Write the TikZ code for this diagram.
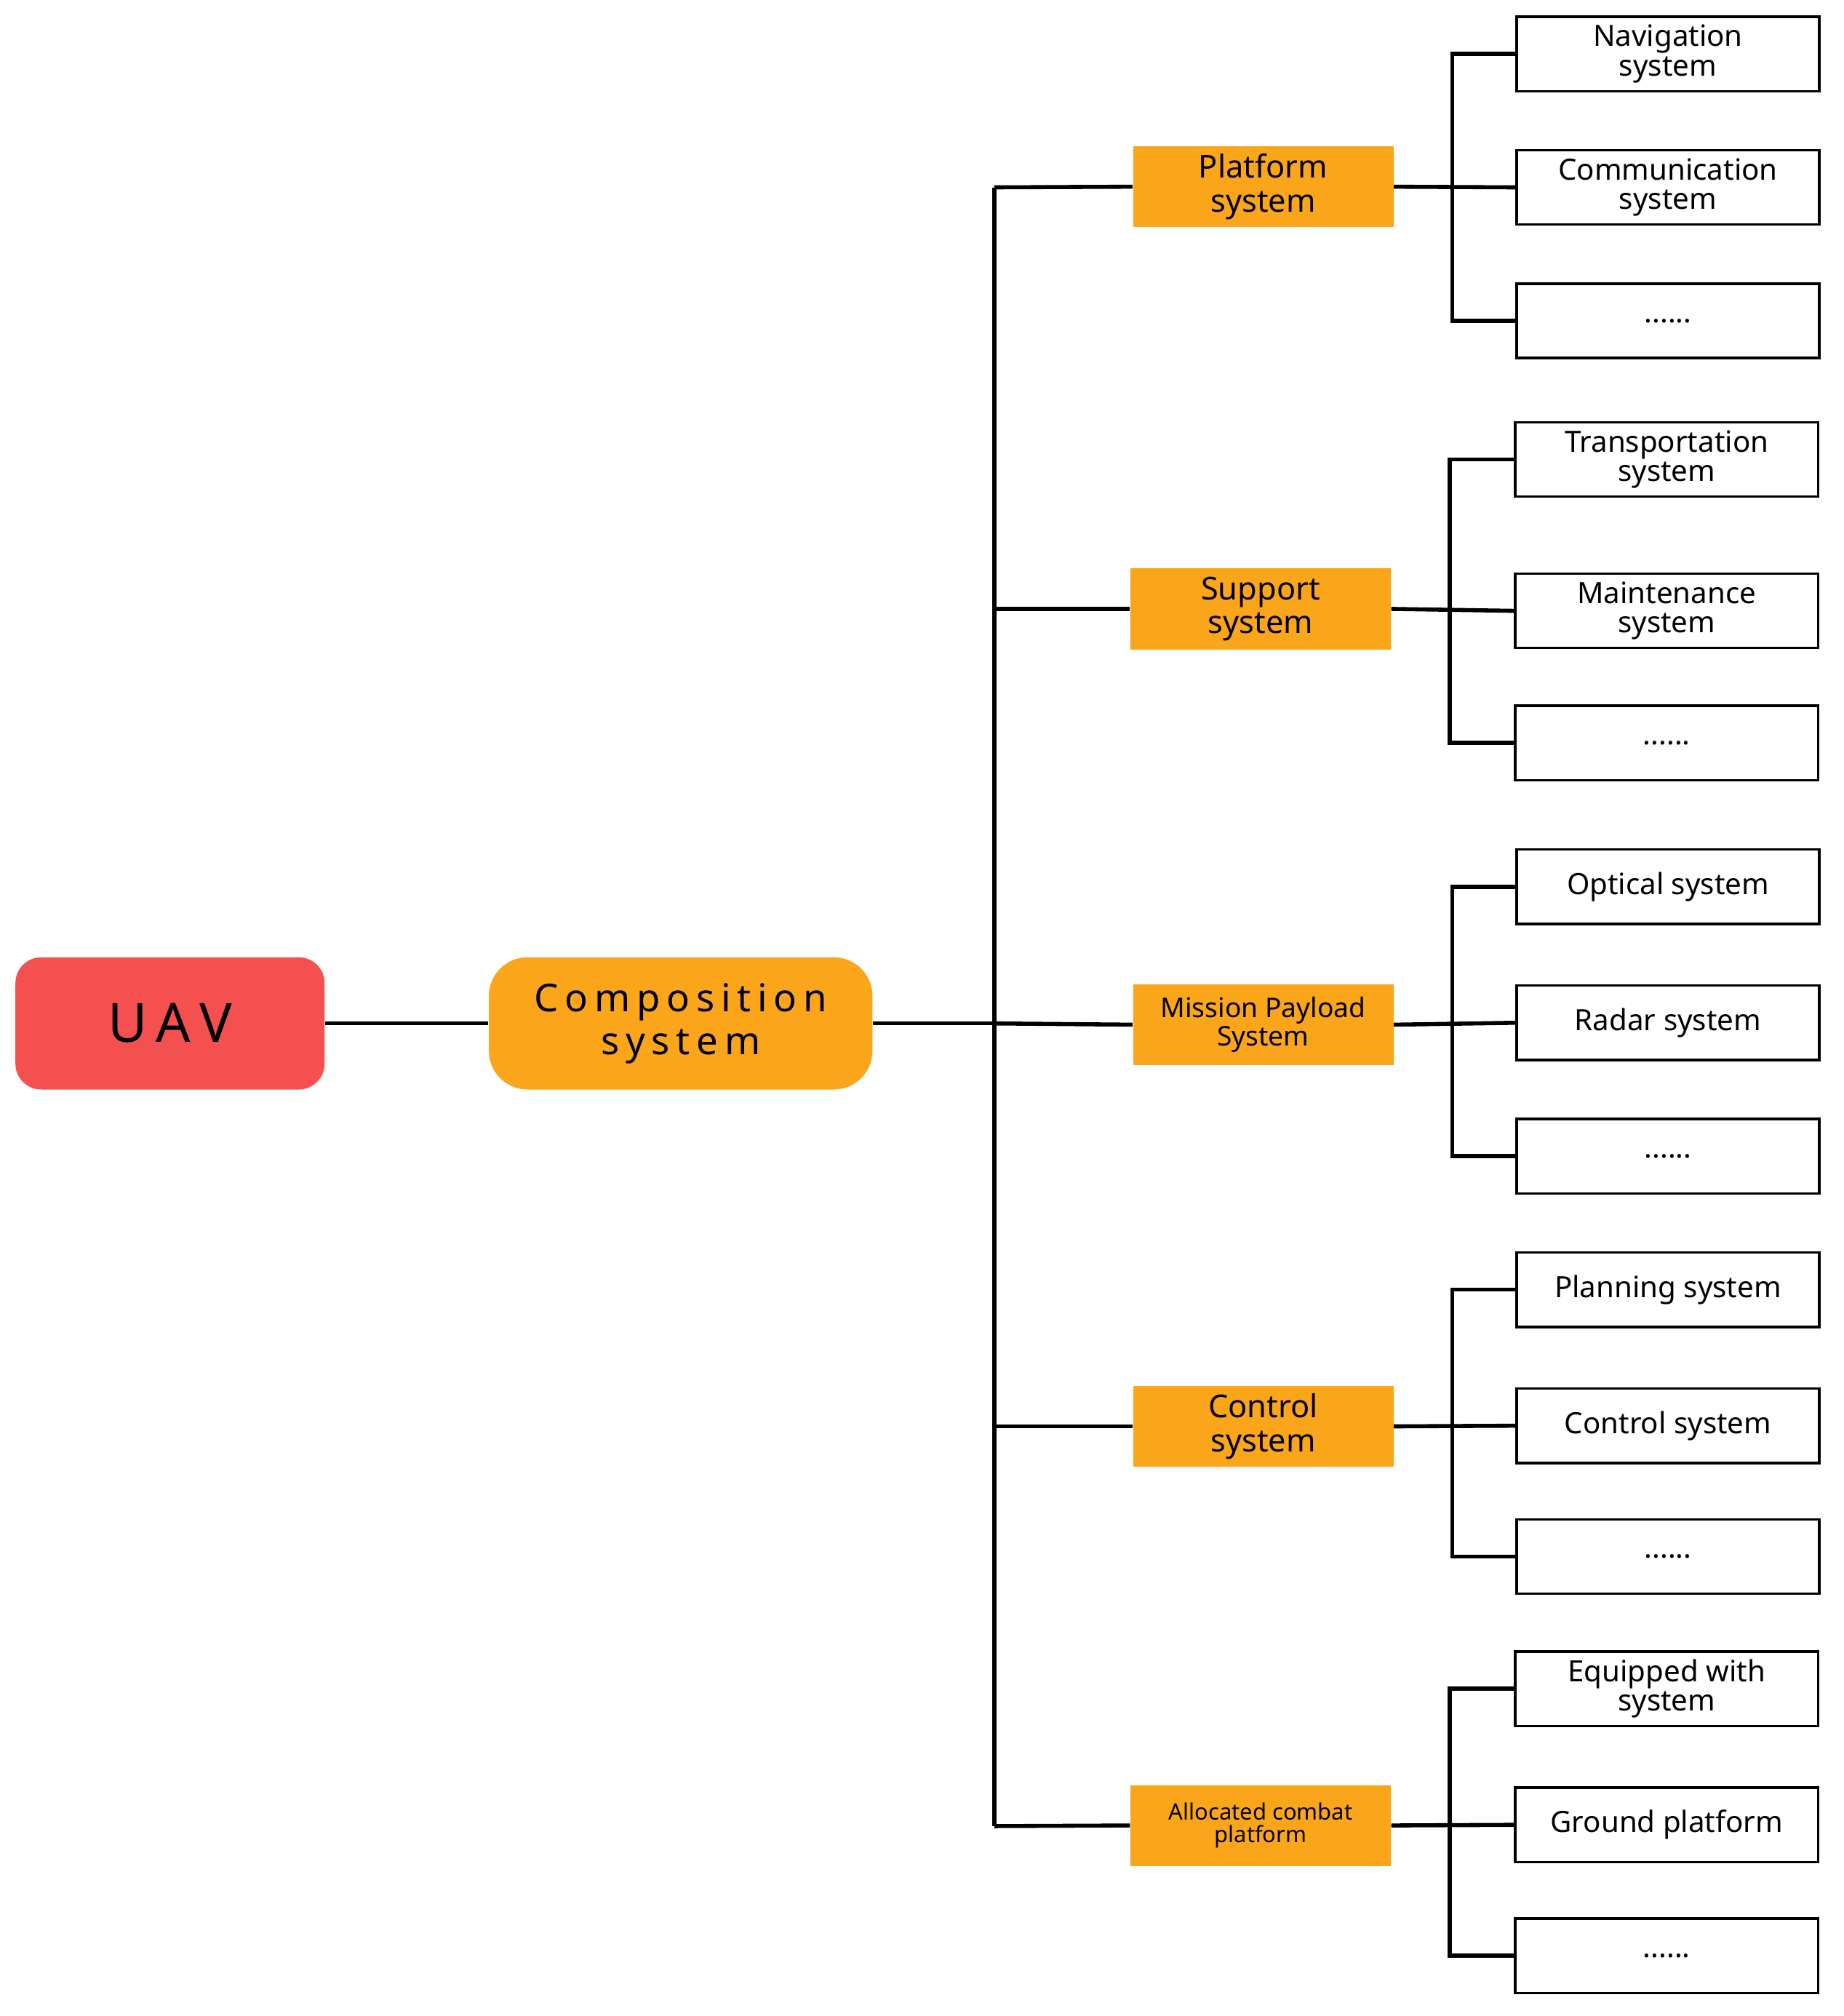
\documentclass[tikz,border=0pt]{standalone}
\usepackage{fontspec}
\setmainfont{Noto Sans}
\definecolor{uavred}{HTML}{F55050}
\definecolor{org}{HTML}{FBA51A}
\begin{document}
\begin{tikzpicture}[x=0.02cm,y=-0.02cm,
  ln/.style={line width=1.8pt,black},
  mid/.style={fill=org,draw=none,minimum width=4.06cm,minimum height=1.26cm,inner sep=0pt,align=center,font=\bfseries\fontsize{14}{15}\selectfont},
  leaf/.style={draw=black,line width=1.1pt,fill=white,minimum width=4.72cm,minimum height=1.16cm,inner sep=0pt,align=center,font=\bfseries\fontsize{13}{13}\selectfont}]
\useasboundingbox (0,0) rectangle (1437,1571);
\node[fill=uavred,rounded corners=0.4cm,minimum width=4.82cm,minimum height=2.06cm,font=\bfseries\fontsize{24}{26}\selectfont] (uav) at (132.5,797.5) {U\,A\,V};
\node[fill=org,rounded corners=0.6cm,minimum width=5.98cm,minimum height=2.06cm,align=center,font=\bfseries\fontsize{17}{19}\selectfont] (comp) at (530.5,797.5) {C\,o\,m\,p\,o\,s\,i\,t\,i\,o\,n\\s\,y\,s\,t\,e\,m};
\draw[ln] (uav) -- (comp);
\coordinate (tr) at (775,797.5);
\coordinate (tt) at (775,146);
\coordinate (tb) at (775,1423);
\draw[ln] (comp) -- (tr);
\draw[ln] (tt) -- (tb);
% mid nodes
\node[mid] (m1) at (984.5,145.5) {Platform\\system};
\node[mid] (m2) at (982.5,474.5) {Support\\system};
\node[mid,font=\bfseries\fontsize{12}{11}\selectfont] (m3) at (984.5,798.5) {Mission Payload\\System};
\node[mid] (m4) at (984.5,1111.5) {Control\\system};
\node[mid,font=\bfseries\fontsize{10}{10}\selectfont] (m5) at (982.5,1422.5) {Allocated combat\\platform};
\draw[ln] (tt) -- (m1.west);
\draw[ln] (775,474.5) coordinate (j2) -- (m2.west);
\draw[ln] (tr) -- (m3.west);
\draw[ln] (775,1111.5) coordinate (j4) -- (m4.west);
\draw[ln] (tb) -- (m5.west);
% leaves
\foreach \m/\bx/\lx/\ya/\yb/\yc/\ta/\tb in {
  m1/1132/1300/42/146/250/{Navigation\\system}/{Communication\\system},
  m2/1130/1299/358/476/579/{Transportation\\system}/{Maintenance\\system},
  m3/1132/1300/691/797/901/{Optical system}/{Radar system},
  m4/1132/1300/1005/1111/1213/{Planning system}/{Control system},
  m5/1130/1299/1316/1422/1524/{Equipped with\\system}/{Ground platform}}{
  \node[leaf] (\m a) at (\lx,\ya) {\ta};
  \node[leaf] (\m b) at (\lx,\yb) {\tb};
  \node[leaf] (\m c) at (\lx,\yc) {......};
  \draw[ln] (\m.east) -- (\m b.west);
  \draw[ln] (\m a.west) -- (\bx,\ya) -- (\bx,\yc) -- (\m c.west);
}
\end{tikzpicture}
\end{document}
